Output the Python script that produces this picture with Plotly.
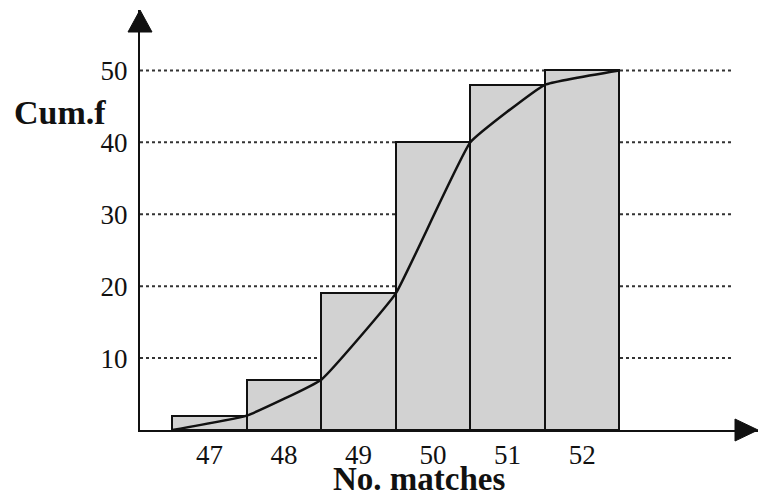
import plotly.graph_objects as go

# Data
matches = [47, 48, 49, 50, 51, 52]
cum_freq = [2, 7, 19, 40, 48, 50]
upper_boundaries = [46.5, 47.5, 48.5, 49.5, 50.5, 51.5, 52.5]
ogive_values = [0, 2, 7, 19, 40, 48, 50]
y_tick_values = [10, 20, 30, 40, 50]
x_tick_labels = ["47", "48", "49", "50", "51", "52"]

X_RANGE = [46.067, 54.36]
Y_RANGE = [0, 58.4]
SERIF = "Liberation Serif, Times New Roman, serif"

fig = go.Figure()

fig.add_trace(go.Bar(
    x=matches, y=cum_freq, width=1,
    marker=dict(color="#d2d2d2", line=dict(color="#111111", width=2)),
    hoverinfo="skip", showlegend=False,
))

fig.add_trace(go.Scatter(
    x=upper_boundaries, y=ogive_values, mode="lines",
    line=dict(color="#111111", width=2.5, shape="spline", smoothing=0.3),
    hoverinfo="skip", showlegend=False,
))

shapes = []
for t in y_tick_values:
    shapes.append(dict(
        type="line", xref="x", yref="y", x0=X_RANGE[0], x1=54.03, y0=t, y1=t,
        line=dict(color="#333333", width=2, dash="dot"), layer="below",
    ))
# Axis arrowheads (paper refs so they are not clipped)
shapes.append(dict(
    type="path", xref="paper", yref="paper", xsizemode="pixel", ysizemode="pixel",
    xanchor=0, yanchor=1,
    path="M -12,-22 L 12,-22 L 0,0 Z",
    fillcolor="#111111", line=dict(color="#111111", width=1), layer="above",
))
shapes.append(dict(
    type="path", xref="paper", yref="paper", xsizemode="pixel", ysizemode="pixel",
    xanchor=1, yanchor=0,
    path="M -23,-11 L -23,11 L 0,0 Z",
    fillcolor="#111111", line=dict(color="#111111", width=1), layer="above",
))

annotations = [
    dict(text="<b>Cum.f</b>", xref="paper", yref="paper", x=0, y=0.757,
         xshift=-128, xanchor="left", yanchor="middle", showarrow=False,
         font=dict(family=SERIF, size=34, color="#111111")),
    dict(text="<b>No. matches</b>", xref="x", yref="paper", x=49.81, y=0,
         yshift=-49, xanchor="center", yanchor="middle", showarrow=False,
         font=dict(family=SERIF, size=33, color="#111111")),
]

fig.update_layout(
    width=759, height=496,
    margin=dict(l=132, r=9, t=2, b=74),
    paper_bgcolor="white", plot_bgcolor="white",
    bargap=0,
    shapes=shapes, annotations=annotations,
    xaxis=dict(range=X_RANGE, tickvals=matches, ticktext=x_tick_labels,
               showgrid=False, zeroline=False, showline=True,
               linecolor="#111111", linewidth=2, ticks="",
               ticklabelstandoff=0,
               tickfont=dict(family=SERIF, size=27, color="#111111")),
    yaxis=dict(range=Y_RANGE, tickvals=y_tick_values,
               showgrid=False, zeroline=False, showline=True,
               linecolor="#111111", linewidth=2, ticks="",
               ticklabelstandoff=5,
               tickfont=dict(family=SERIF, size=27, color="#111111")),
)

fig.write_html("out.html")
